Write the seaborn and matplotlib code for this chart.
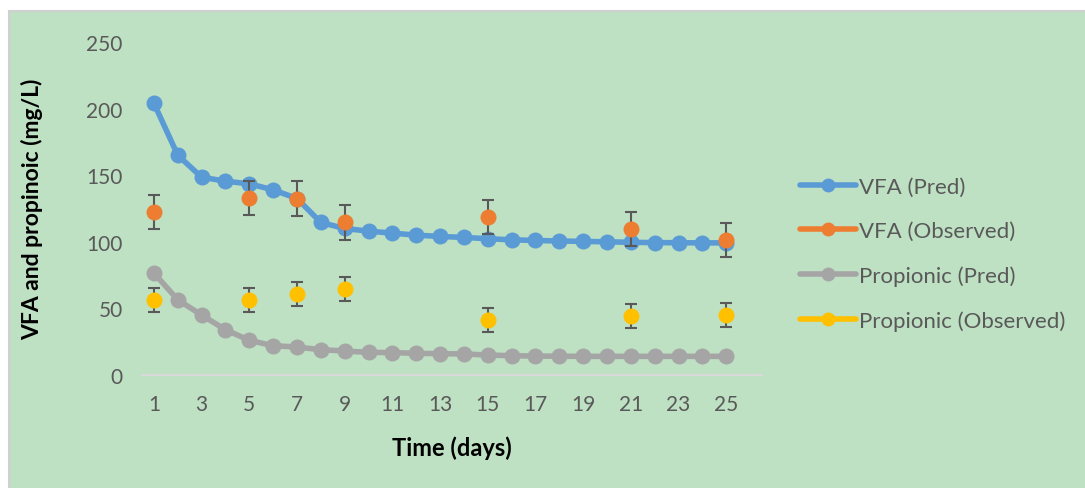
import numpy as np
import pandas as pd
import matplotlib
matplotlib.use('Agg')
import matplotlib.pyplot as plt
import seaborn as sns
from matplotlib.lines import Line2D
from matplotlib.patches import Rectangle

# data
days = list(range(1, 26))
vfa_pred = [204, 165, 148.5, 145.5, 143.5, 139, 132.5, 114.5, 110, 108, 106.5, 105, 104,
            103.3, 102.3, 101.5, 101, 100.6, 100.3, 100, 99.6, 99.4, 99.3, 99.2, 99.2]
prop_pred = [76.5, 56.5, 45, 34, 26, 22, 21, 19, 18, 17, 16.8, 16.3, 16, 15.8, 15,
             14.5, 14.2, 14.1, 14, 14, 14, 14, 14, 14, 14]
obs_days = [1, 5, 7, 9, 15, 21, 25]
vfa_obs = [122.5, 133, 132.5, 114.5, 118.5, 109.5, 101.3]
vfa_err = [13, 13, 13, 13, 13, 13, 13]
prop_obs = [56.5, 56.5, 61, 64.5, 41, 44, 45]
prop_err = [9, 9, 9, 9, 9, 9, 9]

labels = ['VFA (Pred)', 'VFA (Observed)', 'Propionic (Pred)', 'Propionic (Observed)']
colors = ['#5B9BD5', '#ED7D31', '#A5A5A5', '#FFC000']

pred = pd.DataFrame({'day': days, 'vfa': vfa_pred, 'prop': prop_pred})
obs = pd.DataFrame({'day': obs_days, 'vfa': vfa_obs, 'vfa_err': vfa_err,
                    'prop': prop_obs, 'prop_err': prop_err})

sns.set_style('white')
plt.rcParams['font.family'] = ['Lato', 'DejaVu Sans']
txt = '#595959'
bg = '#BEE0C3'

fig = plt.figure(figsize=(10.85, 4.89), dpi=100)
fig.patch.set_facecolor('white')
# green chart area with thin grey border (top/left)
fig.add_artist(Rectangle((9 / 1085, -0.01), 1, 1.01 - 12 / 489, transform=fig.transFigure,
                         facecolor=bg, edgecolor='#D0D0D0', linewidth=1.5, zorder=-5))
ax = fig.add_axes([142 / 1085, 1 - 376 / 489, 620 / 1085, 333 / 489])
ax.patch.set_alpha(0)

ms = 11.5
lw = 4
sns.lineplot(data=pred, x='day', y='vfa', ax=ax, color=colors[0], lw=lw, marker='o',
             markersize=ms, markeredgewidth=0, zorder=2)
ax.errorbar(obs['day'], obs['vfa'], yerr=obs['vfa_err'], fmt='none', ecolor='#595959',
            elinewidth=1.5, capsize=4.5, capthick=1.5, zorder=3)
sns.scatterplot(data=obs, x='day', y='vfa', ax=ax, color=colors[1], s=ms ** 2,
                linewidth=0, zorder=4)
sns.lineplot(data=pred, x='day', y='prop', ax=ax, color=colors[2], lw=lw, marker='o',
             markersize=ms, markeredgewidth=0, zorder=2)
ax.errorbar(obs['day'], obs['prop'], yerr=obs['prop_err'], fmt='none', ecolor='#595959',
            elinewidth=1.5, capsize=4.5, capthick=1.5, zorder=3)
sns.scatterplot(data=obs, x='day', y='prop', ax=ax, color=colors[3], s=ms ** 2,
                linewidth=0, zorder=4)

ax.set_xlim(0.5, 26.5)
ax.set_ylim(0, 250)
ax.set_xticks(range(1, 26, 2))
ax.set_yticks(range(0, 251, 50))
ax.tick_params(length=0, labelsize=15, colors=txt)
ax.tick_params(axis='y', pad=14)
ax.tick_params(axis='x', pad=14)
for s in ['top', 'right', 'left']:
    ax.spines[s].set_visible(False)
ax.spines['bottom'].set_color('#D9D9D9')
ax.spines['bottom'].set_linewidth(1.5)

ax.set_xlabel('Time (days)', fontsize=17, fontweight='bold', color='black')
ax.set_ylabel('VFA and propinoic (mg/L)', fontsize=16.5, fontweight='bold', color='black')
ax.xaxis.set_label_coords(0.5, -0.18)
ax.yaxis.set_label_coords(-0.16, 0.5)

handles = [Line2D([0], [0], color=c, lw=lw, marker='o', markersize=10,
                  markeredgewidth=0, solid_capstyle='round') for c in colors]
fig.legend(handles, labels, loc='center left', bbox_to_anchor=(800 / 1085, 1 - 255 / 489),
           frameon=False, fontsize=16, labelcolor=txt, handlelength=2.5,
           handletextpad=0.15, labelspacing=1.1, borderpad=0, borderaxespad=0)

fig.savefig('out.png', dpi=100, facecolor=fig.get_facecolor())
